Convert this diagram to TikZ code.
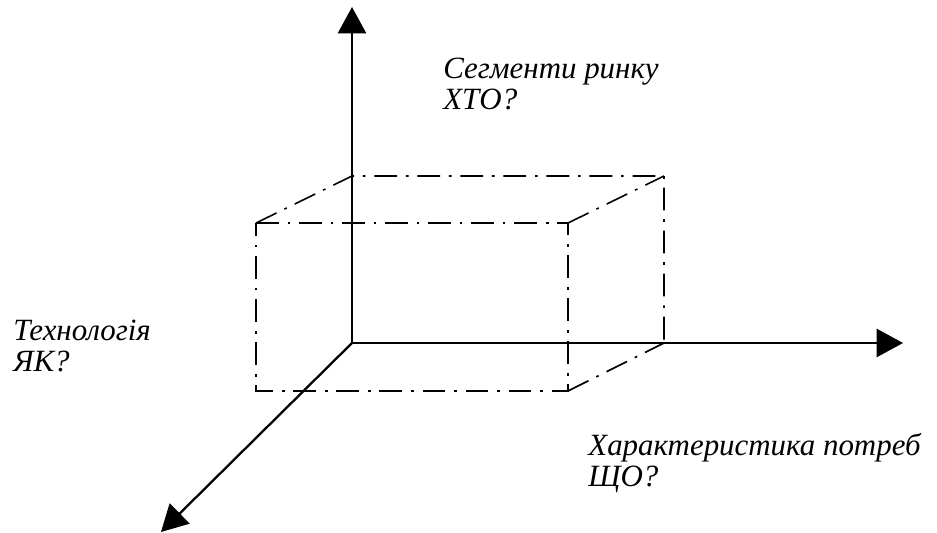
\documentclass[tikz,border=0pt]{standalone}
\usepackage{fontspec}
\setmainfont{Liberation Serif}
\usetikzlibrary{arrows.meta, positioning, calc}

\begin{document}
\begin{tikzpicture}[x=0.02cm, y=-0.02cm]
        \tikzstyle{axis} = [line width=1.3pt, -{Triangle[length=15pt, width=16pt]}]
        \tikzstyle{edge} = [line width=0.9pt, dash pattern=on 13pt off 5pt on 1.5pt off 5pt]
        \tikzstyle{axistext} = [anchor=base west, inner sep=0pt, align=left, font=\fontsize{17.6}{18.2}\selectfont\itshape]

        \useasboundingbox (0,0) rectangle (937,533);

        % axes
        \coordinate (o) at (352,343);
        \coordinate (top) at (352,7);
        \coordinate (right) at (903,343);
        \coordinate (down) at (161,532);

        % back face of the box
        \coordinate (b1) at (352,176);
        \coordinate (b2) at (664,176);
        \coordinate (b3) at (664,343);
        % front face of the box
        \coordinate (f1) at (256,223);
        \coordinate (f2) at (568,223);
        \coordinate (f3) at (568,391);
        \coordinate (f4) at (256,391);

        \draw [edge] (f1) -- (f2) -- (f3) -- (f4) -- cycle;
        \draw [edge] (f1) -- (b1) -- (b2) -- (b3);
        \draw [edge] (f2) -- (b2);
        \draw [edge] (f3) -- (b3);

        \draw [axis] (o) -- (top);
        \draw [axis] (o) -- (right);
        \draw [axis] (o) -- (down);

        \node (seg) [axistext] at (443,110) {Сегменти ринку\\ХТО?};
        \node (tech) [axistext] at (13,372) {Технологія\\ЯК?};
        \node (need) [axistext] at (588,487) {Характеристика потреб\\ЩО?};
\end{tikzpicture}
\end{document}
